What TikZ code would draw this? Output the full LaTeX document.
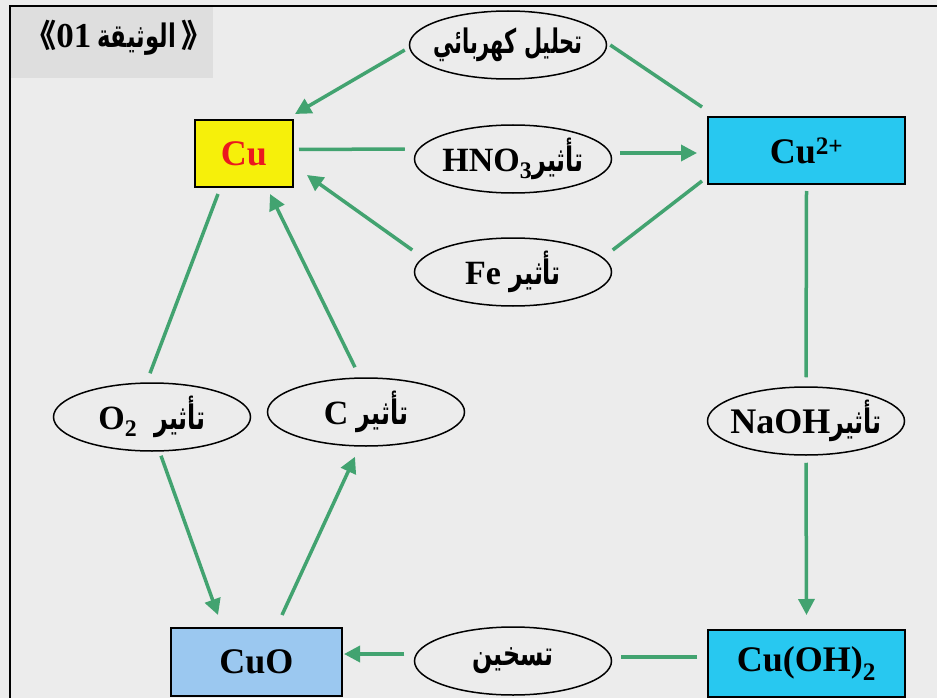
\documentclass[tikz,border=0pt]{standalone}
\usepackage{fontspec}
\usepackage{graphicx}
\setmainfont{Liberation Serif}
\newfontfamily\arfont[Script=Arabic]{DejaVu Sans}
\newfontfamily\cjkfont{Noto Sans CJK SC}
\TeXXeTstate=1
\usetikzlibrary{shapes.geometric,arrows.meta}
\definecolor{bg}{RGB}{236,236,236}
\definecolor{titlebg}{RGB}{222,222,222}
\definecolor{cuyel}{RGB}{246,240,10}
\definecolor{cured}{RGB}{235,25,30}
\definecolor{cyanbox}{RGB}{40,200,240}
\definecolor{lblue}{RGB}{155,200,240}
\definecolor{arrgreen}{RGB}{66,163,112}
\newcommand\ar[1]{\scalebox{0.95}[1.35]{\arfont\bfseries\beginR #1\endR}}
\newcommand\fixw[1]{\makebox[0pt]{#1}}
\begin{document}
\begin{tikzpicture}[x=1pt,y=-1pt,
  box/.style={draw=black,line width=2pt,rectangle,inner sep=0pt,
    font=\fontsize{36}{40}\selectfont\bfseries},
  oval/.style={draw=black,line width=1.5pt,ellipse,inner sep=0pt,
    minimum width=197pt,minimum height=68pt,
    font=\fontsize{34}{36}\selectfont\bfseries},
  conn/.style={draw=arrgreen,line width=3.5pt},
  arr/.style={conn,-{Triangle[length=16pt,width=16pt]}}]
\useasboundingbox (0,0) rectangle (937,698);
\fill[bg] (0,0) rectangle (937,698);
\fill[titlebg] (10,6) rectangle (213,78);
\draw[line width=2.5pt] (10,698) -- (10,6) -- (937,6);
% title
\node[inner sep=0pt,font=\fontsize{35}{36}\selectfont\bfseries] (title) at (119,38)
  {{\cjkfont\fontsize{32}{30}\selectfont 《}01\,{\fontsize{24}{28}\selectfont\ar{الوثيقة}}\,{\cjkfont\fontsize{32}{30}\selectfont 》}};
% species boxes
\node[box,fill=cuyel,minimum width=98pt,minimum height=67pt] (cu) at (244,153.5) {\color{cured}Cu};
\node[box,fill=cyanbox,minimum width=197pt,minimum height=67pt] (cu2) at (806.5,150.5) {Cu\textsuperscript{2+}};
\node[box,fill=cyanbox,minimum width=197pt,minimum height=67pt] (cuoh) at (806.5,663.5) {Cu(OH)\textsubscript{2}};
\node[box,fill=lblue,minimum width=171pt,minimum height=68pt] (cuo) at (256.5,662) {CuO};
% reaction ovals
\node[oval] (elec) at (508,45) {\fixw{\fontsize{25}{30}\selectfont\scalebox{0.88}[1]{\ar{تحليل كهربائي}}}};
\node[oval] (hno) at (513,159) {\fixw{HNO\textsubscript{3}{\fontsize{25}{30}\selectfont\ar{تأثير}}}};
\node[oval] (fe) at (513,272) {\fixw{Fe {\fontsize{25}{30}\selectfont\ar{تأثير}}}};
\node[oval] (naoh) at (806,421) {\fixw{\fontsize{36}{36}\selectfont NaOH{\fontsize{25}{30}\selectfont\ar{تأثير}}}};
\node[oval] (o2) at (152,417) {\fixw{O\textsubscript{2}\ \ {\fontsize{25}{30}\selectfont\ar{تأثير}}}};
\node[oval] (c) at (366,412) {\fixw{C {\fontsize{25}{30}\selectfont\ar{تأثير}}}};
\node[oval] (heat) at (513,661) {\fixw{\fontsize{25}{30}\selectfont\ar{تسخين}}};
% connectors
\draw[conn] ([shift={(-5,-9)}]cu2.north west) -- ([shift={(3,0)}]elec.east);
\draw[arr] ([shift={(-4,5)}]elec.west) -- ([shift={(1,-5)}]cu.north east);
\draw[conn] ([shift={(5,-4)}]cu.east) -- ([shift={(-9,-10)}]hno.west);
\draw[arr] ([shift={(7.5,-6)}]hno.east) -- ([shift={(-10,2.5)}]cu2.west);
\draw[conn] ([shift={(-5,-4)}]cu2.south west) -- ([shift={(0.5,-22)}]fe.east);
\draw[arr] ([shift={(-1.5,-22)}]fe.west) -- ([shift={(13,-13)}]cu.south east);
\draw[conn] ([shift={(0,6)}]cu2.south) -- ([shift={(0,-9)}]naoh.north);
\draw[arr] ([shift={(0,7)}]naoh.south) -- ([shift={(0,-14)}]cuoh.north);
\draw[conn] ([shift={(-10,-6.5)}]cuoh.west) -- ([shift={(8.5,-4)}]heat.east);
\draw[arr] ([shift={(-9.5,-7)}]heat.west) -- ([shift={(1,-8)}]cuo.east);
\draw[conn] ([shift={(-26,6)}]cu.south) -- ([shift={(-2,-9)}]o2.north);
\draw[arr] ([shift={(9,4)}]o2.south) -- ([shift={(-38.5,-12)}]cuo.north);
\draw[arr] ([shift={(25.5,-12)}]cuo.north) -- ([shift={(-11,10)}]c.south);
\draw[arr] ([shift={(-11,-10)}]c.north) -- ([shift={(26,6)}]cu.south);
\end{tikzpicture}
\end{document}
